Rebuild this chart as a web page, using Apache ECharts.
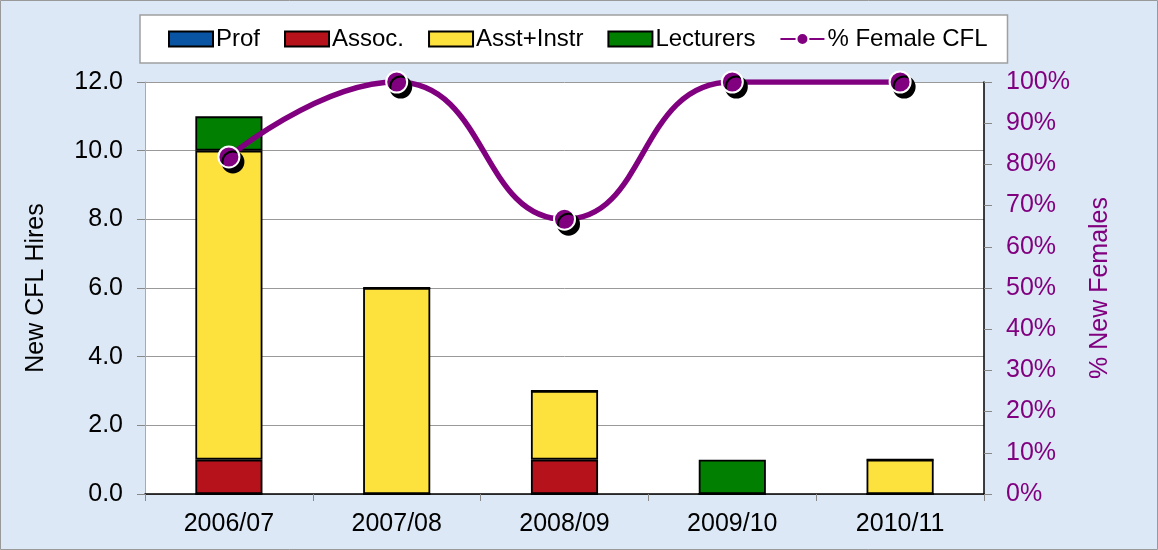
<!DOCTYPE html>
<html>
<head>
<meta charset="utf-8">
<script src="https://cdn.jsdelivr.net/npm/echarts@6/dist/echarts.min.js"></script>
<style>
  html, body { margin: 0; padding: 0; }
  #chart { width: 1158px; height: 550px; }
</style>
</head>
<body>
<div id="chart"></div>
<script>
const years = ['2006/07', '2007/08', '2008/09', '2009/10', '2010/11']
const prof = [0, 0, 0, 0, 0]
const assoc = [1, 0, 1, 0, 0]
const asstInstr = [9, 6, 2, 0, 1]
const lecturers = [1, 0, 0, 1, 0]
const pctFemale = [81.8, 100, 66.7, 100, 100]

const FONT = 'Liberation Sans, Arial, sans-serif'
const PURPLE = '#800080'

const chart = echarts.init(document.getElementById('chart'))

function barSeries (name, data, color) {
  return {
    name: name,
    type: 'bar',
    stack: 'hires',
    barWidth: '40%',
    data: data,
    itemStyle: { color: color, borderColor: '#000', borderWidth: 1.8 }
  }
}

chart.setOption({
  backgroundColor: '#dce8f5',
  textStyle: { fontFamily: FONT },
  animation: false,
  graphic: [{
    type: 'rect',
    shape: { x: 0.5, y: 0.5, width: 1157, height: 549 },
    style: { fill: null, stroke: '#999', lineWidth: 1 }
  }],
  legend: {
    top: 15,
    left: 140,
    padding: [12, 20, 12, 28],
    backgroundColor: '#fff',
    borderColor: '#a0a0a0',
    borderWidth: 1.5,
    itemWidth: 44,
    itemHeight: 15,
    itemGap: 24,
    textStyle: { fontSize: 24, color: '#000', fontFamily: FONT, padding: [0, 0, 0, -2] },
    data: [
      { name: 'Prof', icon: 'rect' },
      { name: 'Assoc.', icon: 'rect' },
      { name: 'Asst+Instr', icon: 'rect' },
      { name: 'Lecturers', icon: 'rect' },
      { name: '% Female CFL' }
    ]
  },
  grid: { left: 145, right: 174, top: 82, bottom: 56, backgroundColor: '#fff', show: true, borderWidth: 0 },
  xAxis: {
    type: 'category',
    data: years,
    axisLine: { lineStyle: { color: '#000', width: 1.5 } },
    axisTick: { show: true, length: 7, lineStyle: { color: '#888' } },
    axisLabel: { fontSize: 25, color: '#000', margin: 18 }
  },
  yAxis: [{
    type: 'value',
    min: 0,
    max: 12,
    interval: 2,
    name: 'New CFL Hires',
    nameLocation: 'middle',
    nameRotate: 90,
    nameGap: 96,
    nameTextStyle: { fontSize: 25, color: '#000' },
    axisLine: { show: true, lineStyle: { color: '#aaa' } },
    axisTick: { show: true, length: 8, lineStyle: { color: '#888' } },
    axisLabel: { fontSize: 25, color: '#000', margin: 22, formatter: v => v.toFixed(1) },
    splitLine: { show: true, lineStyle: { color: '#999', width: 1 } }
  }, {
    type: 'value',
    min: 0,
    max: 100,
    interval: 10,
    name: '% New Females',
    nameLocation: 'middle',
    nameRotate: 90,
    nameGap: 104,
    nameTextStyle: { fontSize: 25, color: PURPLE },
    axisLine: { show: true, lineStyle: { color: '#000', width: 1.5 } },
    axisTick: { show: true, length: 8, lineStyle: { color: '#888' } },
    axisLabel: { fontSize: 25, color: PURPLE, margin: 22, formatter: '{value}%' },
    splitLine: { show: false }
  }],
  series: [
    barSeries('Prof', prof, '#0a55a3'),
    barSeries('Assoc.', assoc, '#b5121b'),
    barSeries('Asst+Instr', asstInstr, '#fde13c'),
    barSeries('Lecturers', lecturers, '#007f00'),
    {
      name: '% Female CFL',
      type: 'line',
      yAxisIndex: 1,
      smooth: 0.5,
      clip: true,
      data: pctFemale,
      symbol: 'circle',
      symbolSize: 21,
      lineStyle: { color: PURPLE, width: 5.5 },
      itemStyle: {
        color: PURPLE,
        borderColor: '#fff',
        borderWidth: 2,
        shadowColor: '#000',
        shadowOffsetX: 4,
        shadowOffsetY: 5,
        shadowBlur: 0
      }
    }
  ]
})
</script>
</body>
</html>
